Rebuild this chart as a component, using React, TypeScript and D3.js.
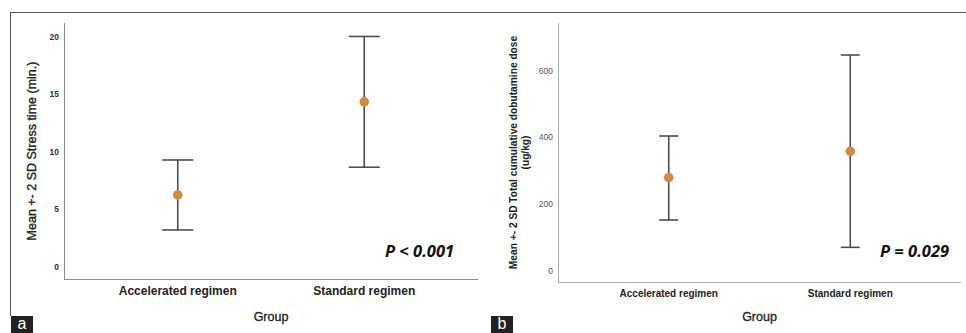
import React from 'react';
import * as d3 from 'd3';

// groups on the x axis
const groups = ['Accelerated regimen', 'Standard regimen'];

// panel a: stress time (min.), mean and mean +- 2 SD
const stressMean = [6.26, 14.35];
const stressLow = [3.22, 8.67];
const stressHigh = [9.3, 20.03];
const stressTicks = [0, 5, 10, 15, 20];

// panel b: total cumulative dobutamine dose (ug/kg)
const doseMean = [279, 358];
const doseLow = [152, 70];
const doseHigh = [404, 647];
const doseTicks = [0, 200, 400, 600];

const W = 966;
const H = 333;
const ORANGE = '#d4893b';
const BAR = '#4d4d4d';
const SANS = '"Liberation Sans", Arial, sans-serif';

type PanelProps = {
  x0: number; x1: number; yTop: number; yBot: number;
  domain: [number, number];
  ticks: number[];
  mean: number[]; low: number[]; high: number[];
  capHalf: number;
  axisColor: string;
  tickStyle: { size: number; weight: string; fill: string };
  catStyle: { size: number; baseline: number };
  titleLines: string[];
  titleX: number[];
  titleStyle: { size: number; weight: string; stroke: number };
  pText: string; pX: number;
  tag: string; tagX: number;
};

const Panel = (p: PanelProps) => {
  const x = d3.scalePoint<string>().domain(groups).range([p.x0, p.x1]).padding(0.61);
  const y = d3.scaleLinear().domain(p.domain).range([p.yBot, p.yTop]);
  const midX = (p.x0 + p.x1) / 2;
  const midY = (p.yTop + p.yBot) / 2;

  return (
    <g>
      {/* axes */}
      <line x1={p.x0 + 0.5} x2={p.x0 + 0.5} y1={p.yTop} y2={p.yBot} stroke={p.axisColor} strokeWidth={1} />
      <line x1={p.x0} x2={p.x1} y1={p.yBot + 0.5} y2={p.yBot + 0.5} stroke={p.axisColor} strokeWidth={1} />

      {p.ticks.map(t => (
        <text key={t} x={p.x0 - 5} y={y(t)} dy="0.35em" textAnchor="end"
          fontFamily={SANS} fontSize={p.tickStyle.size} fontWeight={p.tickStyle.weight} fill={p.tickStyle.fill}>
          {t}
        </text>
      ))}

      {groups.map(g => (
        <text key={g} x={x(g)} y={p.catStyle.baseline} textAnchor="middle"
          fontFamily={SANS} fontSize={p.catStyle.size} fontWeight="bold" fill="#222">
          {g}
        </text>
      ))}

      <text x={midX} y={321} textAnchor="middle" fontFamily={SANS} fontSize={12.5} fill="#222"
        stroke="#222" strokeWidth={0.3}>Group</text>

      {p.titleLines.map((line, i) => (
        <text key={i} transform={`translate(${p.titleX[i]},${midY}) rotate(-90)`} textAnchor="middle"
          dy="0.35em" fontFamily={SANS} fontSize={p.titleStyle.size} fontWeight={p.titleStyle.weight} fill="#222"
          stroke="#222" strokeWidth={p.titleStyle.stroke}>
          {line}
        </text>
      ))}

      {/* error bars */}
      {groups.map((g, i) => {
        const cx = x(g) as number;
        return (
          <g key={g} stroke={BAR} strokeWidth={1.6}>
            <line x1={cx} x2={cx} y1={y(p.low[i])} y2={y(p.high[i])} />
            <line x1={cx - p.capHalf} x2={cx + p.capHalf} y1={y(p.high[i])} y2={y(p.high[i])} />
            <line x1={cx - p.capHalf} x2={cx + p.capHalf} y1={y(p.low[i])} y2={y(p.low[i])} />
          </g>
        );
      })}
      {groups.map((g, i) => (
        <circle key={g} cx={x(g)} cy={y(p.mean[i])} r={4.8} fill={ORANGE} />
      ))}

      <text x={p.pX} y={257} fontFamily='"Open Sans", sans-serif' fontStyle="italic" fontWeight="bold"
        fontSize={16.5} fill="#111">
        {p.pText}
      </text>

      <rect x={p.tagX} y={316} width={22} height={17} fill="#222" />
      <text x={p.tagX + 11} y={329} textAnchor="middle" fontFamily={SANS} fontSize={16} fill="#fff">{p.tag}</text>
    </g>
  );
};

export default function App() {
  return (
    <svg width={W} height={H} style={{ position: 'absolute', left: 0, top: 0, background: '#fff' }}>
      <rect width={W} height={H} fill="#fff" />
      {/* frame */}
      <line x1={10} x2={W} y1={12.5} y2={12.5} stroke="#555" strokeWidth={1} />
      <line x1={10.5} x2={10.5} y1={12} y2={316} stroke="#555" strokeWidth={1} />

      <Panel
        x0={64} x1={478} yTop={23} yBot={279}
        domain={[-1.04, 21.2]} ticks={stressTicks}
        mean={stressMean} low={stressLow} high={stressHigh}
        capHalf={15.5} axisColor="#8a8a8a"
        tickStyle={{ size: 8.5, weight: 'bold', fill: '#333' }}
        catStyle={{ size: 12, baseline: 295 }}
        titleLines={['Mean +- 2 SD Stress time (min.)']} titleX={[32]}
        titleStyle={{ size: 12.5, weight: 'normal', stroke: 0.35 }}
        pText="P < 0.001" pX={385}
        tag="a" tagX={11}
      />
      <Panel
        x0={558} x1={961} yTop={23} yBot={282}
        domain={[-34, 743]} ticks={doseTicks}
        mean={doseMean} low={doseLow} high={doseHigh}
        capHalf={9.5} axisColor="#a8a8a8"
        tickStyle={{ size: 8.5, weight: 'normal', fill: '#555' }}
        catStyle={{ size: 10, baseline: 297 }}
        titleLines={['Mean +- 2 SD Total cumulative dobutamine dose', '(ug/kg)']} titleX={[513, 525]}
        titleStyle={{ size: 10.2, weight: 'bold', stroke: 0 }}
        pText="P = 0.029" pX={880}
        tag="b" tagX={491}
      />
    </svg>
  );
}
